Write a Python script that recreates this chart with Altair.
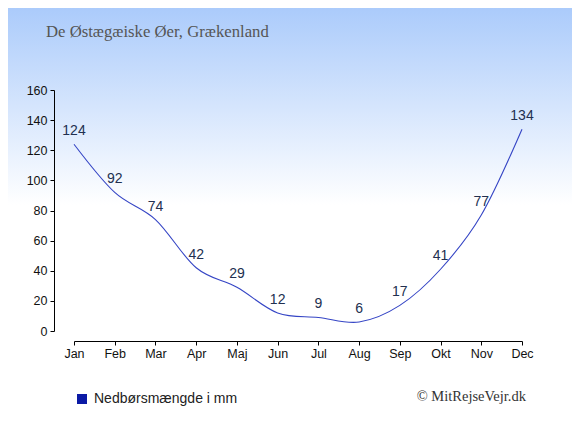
import altair as alt
import pandas as pd

months = ["Jan", "Feb", "Mar", "Apr", "Maj", "Jun", "Jul", "Aug", "Sep", "Okt", "Nov", "Dec"]
rain = [124, 92, 74, 42, 29, 12, 9, 6, 17, 41, 77, 134]
y_ticks = [0, 20, 40, 60, 80, 100, 120, 140, 160]
title_text = "De Østægæiske Øer, Grækenland"
legend_text = "Nedbørsmængde i mm"
credit_text = "© MitRejseVejr.dk"

df = pd.DataFrame({"month": months, "rain": rain})

W, H = 448, 241
PAD = {"left": 66, "top": 82, "right": 50, "bottom": 96}

x_enc = alt.X("month:O", sort=months,
              scale=alt.Scale(type="point", padding=0),
              axis=alt.Axis(title=None, labelAngle=0, offset=10, tickSize=4,
                            labelPadding=2, domainColor="#000", tickColor="#000",
                            labelColor="#111", labelFontSize=12.5, zindex=2,
                            labelOverlap=False, labelFont="Liberation Sans"))
y_enc = alt.Y("rain:Q", scale=alt.Scale(domain=[0, 160], nice=False, zero=True),
              axis=alt.Axis(title=None, values=y_ticks, tickCount=9, offset=20, tickSize=4,
                            labelPadding=3, grid=False, domainColor="#000",
                            tickColor="#000", labelColor="#111", labelFontSize=12.5,
                            labelOverlap=False, labelBound=False, zindex=2,
                            labelFont="Liberation Sans"))

bg = alt.Chart(pd.DataFrame({"a": [0]})).mark_rect(
    fill=alt.Gradient(gradient="linear", x1=0, y1=0, x2=0, y2=1,
                      stops=[alt.GradientStop(color="#abcbfb", offset=0),
                             alt.GradientStop(color="#ffffff", offset=0.47),
                             alt.GradientStop(color="#ffffff", offset=1)]),
    clip=False
).encode(x=alt.value(-PAD["left"]), x2=alt.value(W + PAD["right"]),
         y=alt.value(-PAD["top"]), y2=alt.value(H + PAD["bottom"]))

line = alt.Chart(df).mark_line(color="#3545c5", strokeWidth=1.1, interpolate="cardinal").encode(
    x=x_enc, y=y_enc)

labels = alt.Chart(df).mark_text(dy=-13, fontSize=14, font="Liberation Sans",
                                 color="#223050").encode(
    x=x_enc, y=y_enc, text="rain:Q")

title = alt.Chart(pd.DataFrame({"t": [title_text]})).mark_text(
    align="left", baseline="alphabetic", font="Liberation Serif", fontSize=16.7,
    color="#555555").encode(x=alt.value(-28), y=alt.value(-53), text="t:N")

legend_sq = alt.Chart(pd.DataFrame({"a": [0]})).mark_square(
    size=100, color="#0b1aa5", opacity=1, filled=True).encode(
    x=alt.value(8), y=alt.value(309))

legend_txt = alt.Chart(pd.DataFrame({"t": [legend_text]})).mark_text(
    align="left", baseline="middle", font="Liberation Sans", fontSize=14,
    color="#222222").encode(x=alt.value(20), y=alt.value(309), text="t:N")

credit = alt.Chart(pd.DataFrame({"t": [credit_text]})).mark_text(
    align="right", baseline="middle", font="Liberation Serif", fontSize=14.5,
    color="#333333").encode(x=alt.value(452), y=alt.value(307), text="t:N")

chart = alt.layer(bg, line, labels, title, legend_sq, legend_txt, credit).properties(
    width=W, height=H, padding=PAD, autosize=alt.AutoSizeParams(type="none"),
    background="white"
).configure_view(stroke=None)

chart.save("out.html", embed_options={"renderer": "svg", "actions": False})
